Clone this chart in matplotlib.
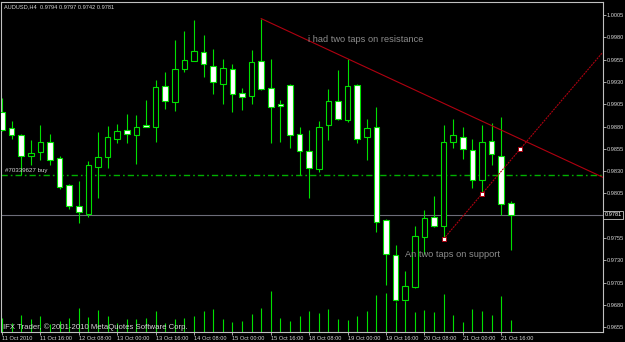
import matplotlib
matplotlib.use('Agg')
import matplotlib.pyplot as plt
from matplotlib.patches import Rectangle

plt.rcParams['font.family'] = ['Liberation Sans', 'DejaVu Sans']
plt.rcParams['lines.scale_dashes'] = False

header = 'AUDUSD,H4  0.9794 0.9797 0.9742 0.9781'
copyright_txt = 'IFX Trader, \u00a9 2001-2010 MetaQuotes Software Corp.'

opens = [0.9896, 0.9878, 0.9870, 0.9847, 0.9851, 0.9863, 0.9845, 0.9814, 0.9791, 0.9782,
         0.9835, 0.9846, 0.9866, 0.9876, 0.9871, 0.9882, 0.9880, 0.9925, 0.9907, 0.9944,
         0.9954, 0.9963, 0.9948, 0.9928, 0.9945, 0.9918, 0.9914, 0.9953, 0.9923, 0.9905,
         0.9927, 0.9872, 0.9853, 0.9832, 0.9882, 0.9909, 0.9887, 0.9927, 0.9868, 0.9880,
         0.9775, 0.9736, 0.9686, 0.9700, 0.9756, 0.9779, 0.9769, 0.9863, 0.9868, 0.9854,
         0.9820, 0.9864, 0.9847, 0.9794]
highs = [0.9912, 0.9886, 0.9872, 0.9865, 0.9882, 0.9872, 0.9847, 0.9815, 0.9819, 0.9841,
         0.9874, 0.9881, 0.9883, 0.9894, 0.9893, 0.9910, 0.9932, 0.9941, 0.9977, 0.9987,
         0.9999, 0.9983, 0.9967, 0.9956, 0.9950, 0.9923, 0.9966, 1.0001, 0.9956, 0.9910,
         0.9928, 0.9880, 0.9876, 0.9886, 0.9922, 0.9943, 0.9956, 0.9928, 0.9888, 0.9902,
         0.9776, 0.9747, 0.9718, 0.9768, 0.9786, 0.9802, 0.9882, 0.9888, 0.9880, 0.9866,
         0.9882, 0.9884, 0.9891, 0.9797]
lows = [0.9875, 0.9866, 0.9826, 0.9837, 0.9842, 0.9837, 0.9810, 0.9787, 0.9772, 0.9779,
        0.9800, 0.9834, 0.9861, 0.9861, 0.9838, 0.9880, 0.9863, 0.9900, 0.9897, 0.9941,
        0.9953, 0.9936, 0.9917, 0.9905, 0.9896, 0.9899, 0.9905, 0.9921, 0.9861, 0.9863,
        0.9856, 0.9826, 0.9800, 0.9829, 0.9865, 0.9887, 0.9885, 0.9861, 0.9842, 0.9762,
        0.9702, 0.9684, 0.9684, 0.9699, 0.9737, 0.9767, 0.9754, 0.9856, 0.9844, 0.9811,
        0.9803, 0.9837, 0.9781, 0.9742]
closes = [0.9876, 0.9870, 0.9847, 0.9850, 0.9863, 0.9843, 0.9812, 0.9791, 0.9784, 0.9837,
          0.9846, 0.9868, 0.9875, 0.9872, 0.9880, 0.9880, 0.9924, 0.9909, 0.9944, 0.9955,
          0.9965, 0.9950, 0.9930, 0.9946, 0.9917, 0.9913, 0.9952, 0.9922, 0.9902, 0.9903,
          0.9870, 0.9853, 0.9834, 0.9880, 0.9909, 0.9888, 0.9925, 0.9866, 0.9878, 0.9773,
          0.9737, 0.9685, 0.9701, 0.9757, 0.9777, 0.9768, 0.9863, 0.9870, 0.9855, 0.9820,
          0.9863, 0.9849, 0.9793, 0.9781]
volumes = [1400, 940, 1670, 1270, 1570, 840, 1070, 1440, 2400, 1500,
           2240, 1600, 940, 1270, 1340, 1440, 2070, 940, 1340, 1400,
           1600, 2070, 2270, 1270, 1000, 1070, 1770, 2370, 4100, 1440,
           1070, 1570, 2100, 1870, 2270, 1270, 1170, 1600, 2070, 3670,
           3900, 3000, 3100, 1970, 2240, 1970, 3770, 1740, 1000, 2270,
           2070, 1740, 3570, 1200]

time_label_bars = [0, 4, 8, 12, 16, 20, 24, 28, 32, 36, 40, 44, 48, 52]
time_labels = ['11 Oct 2010', '11 Oct 16:00', '12 Oct 08:00', '13 Oct 00:00',
               '13 Oct 16:00', '14 Oct 08:00', '15 Oct 00:00', '15 Oct 16:00',
               '18 Oct 08:00', '19 Oct 00:00', '19 Oct 16:00', '20 Oct 08:00',
               '21 Oct 00:00', '21 Oct 16:00']
price_ticks = [1.0005, 0.9980, 0.9955, 0.9930, 0.9905, 0.9880, 0.9855, 0.9830,
               0.9805, 0.9755, 0.9730, 0.9705, 0.9680, 0.9655]
price_tick_labels = ['1.0005', '0.9980', '0.9955', '0.9930', '0.9905', '0.9880', '0.9855',
                     '0.9830', '0.9805', '0.9755', '0.9730', '0.9705', '0.9680', '0.9655']
bid_price = 0.9781
order_price = 0.9826
order_label = '#70339627 buy'
res_bars = [27, 36]
sup_bars = [46, 54]
sup_prices = [0.9754, 0.9855]
note_resistance = 'i had two taps on resistance'
note_support = 'An two taps on support'

GREEN = '#00e000'
RED = '#b00010'
FG = '#d8d8d8'
W, H = 625, 342

fig = plt.figure(figsize=(W / 100, H / 100), dpi=100, facecolor='black')
L, R, T, B = 1.5, 602.5, 2, 332
rect = [L / W, 1 - B / H, (R - L) / W, (B - T) / H]
ax2 = fig.add_axes(rect)
ax = fig.add_axes(rect, sharex=ax2)
ax.patch.set_visible(False)
ax2.set_facecolor('black')

XMIN, XMAX = -0.05, 62.55
YMIN, YMAX = 0.96496, 1.00196
ax.set_xlim(XMIN, XMAX)
ax.set_ylim(YMIN, YMAX)

# volumes
ax2.set_ylim(0, 33000)
ax2.vlines(range(len(volumes)), 0, volumes, color=GREEN, lw=0.8)
ax2.set_yticks([])
for s in ax2.spines.values():
    s.set_visible(False)
ax2.tick_params(axis='x', which='both', length=0, labelbottom=False)

# candles
for i, (o, h, l, c) in enumerate(zip(opens, highs, lows, closes)):
    ax.vlines(i, l, h, color=GREEN, lw=0.8, zorder=2)
    bottom = min(o, c)
    height = max(abs(c - o), 0.00003)
    face = 'white' if c < o else 'black'
    ax.add_patch(Rectangle((i - 0.3, bottom), 0.6, height, facecolor=face,
                           edgecolor=GREEN, lw=0.8, zorder=3))

# order line and bid line
ax.axhline(order_price, color='#00b000', lw=1.0, linestyle=(0, (4.5, 2.2, 1.2, 2.2)), zorder=1)
ax.axhline(bid_price, color='#6c6c78', lw=0.8, zorder=1)
ax.text(0.3, order_price + 0.0005, order_label, color=FG, fontsize=4.4,
        ha='left', va='center', zorder=5)

# resistance line (ray)
r0, r1 = res_bars
slope_r = (highs[r1] - highs[r0]) / (r1 - r0)
ax.plot([r0, XMAX], [highs[r0], highs[r0] + slope_r * (XMAX - r0)], color=RED, lw=0.8, zorder=4)

# support line (ray, dotted, selected)
s0, s1 = sup_bars
slope_s = (sup_prices[1] - sup_prices[0]) / (s1 - s0)
ax.plot([s0, XMAX], [sup_prices[0], sup_prices[0] + slope_s * (XMAX - s0)], color=RED, lw=0.8,
        linestyle=(0, (1.4, 0.7)), zorder=4)
mids = [s0, (s0 + s1) / 2, s1]
ax.plot(mids, [sup_prices[0] + slope_s * (m - s0) for m in mids], linestyle='none', marker='s',
        markersize=2.6, markerfacecolor='white', markeredgecolor=RED, markeredgewidth=0.7, zorder=5)

# notes
ax.text(31.9, 0.9977, note_resistance, color='#8c8c8c', fontsize=6.7, ha='left', va='center', zorder=5)
ax.text(42.0, 0.97367, note_support, color='#8c8c8c', fontsize=6.7, ha='left', va='center', zorder=5)

# axes styling
for side in ['left', 'top', 'right', 'bottom']:
    ax.spines[side].set_color('#c0c0c0')
    ax.spines[side].set_linewidth(0.8)
ax.yaxis.tick_right()
ax.set_yticks(price_ticks)
ax.set_yticklabels(price_tick_labels)
ax.tick_params(axis='y', length=2, width=0.6, color='#c0c0c0', pad=1.2,
               labelsize=4.1, labelcolor=FG)
ax.set_xticks(time_label_bars)
ax.set_xticklabels(time_labels, ha='left')
ax.tick_params(axis='x', length=2.5, width=0.6, color='#c0c0c0', pad=0.6,
               labelsize=4.1, labelcolor=FG)
ax.text(1.0 + 2 / (R - L), bid_price, '0.9781', transform=ax.get_yaxis_transform(),
        color='white', fontsize=4.1, ha='left', va='center',
        bbox=dict(boxstyle='square,pad=0.25', facecolor='black', edgecolor='#c8c8c8', lw=0.6))

fig.text(4 / W, 1 - 6.3 / H, header, color=FG, fontsize=4.1, ha='left', va='center')
fig.text(3 / W, 1 - 327.5 / H, copyright_txt, color=FG, fontsize=5.6, ha='left', va='center')

fig.savefig('out.png', dpi=100, facecolor='black')
